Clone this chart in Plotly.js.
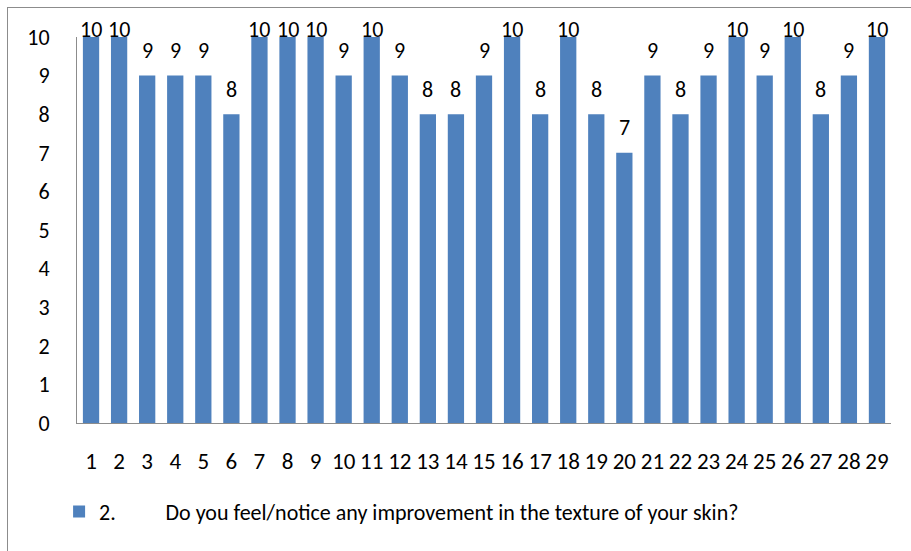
<!DOCTYPE html>
<html>
<head>
<meta charset="utf-8">
<script src="https://cdn.plot.ly/plotly-3.0.1.min.js"></script>
<style>
  html, body { margin: 0; padding: 0; background: #fff; overflow: hidden; }
  #frame { position: absolute; left: 7px; top: 7px; width: 1000px; height: 1000px;
           border-left: 1px solid #8c8c8c; border-top: 1px solid #8c8c8c; }
  #chart { position: absolute; left: 0; top: 0; width: 911px; height: 551px; }
</style>
</head>
<body>
<div id="frame"></div>
<div id="chart"></div>
<script>
const categories = ["1","2","3","4","5","6","7","8","9","10","11","12","13","14","15","16","17","18","19","20","21","22","23","24","25","26","27","28","29"];
const values = [10,10,9,9,9,8,10,10,10,9,10,9,8,8,9,10,8,10,8,7,9,8,9,10,9,10,8,9,10];
const yTicks = [0,1,2,3,4,5,6,7,8,9,10];
const seriesName = "2.\u00A0\u00A0\u00A0\u00A0\u00A0\u00A0\u00A0\u00A0\u00A0\u00A0Do you feel/notice any improvement in the texture of your skin?";

const fontFam = "Carlito, Calibri, Lato, sans-serif";
const yMax = 10;

const trace = {
  type: "bar",
  x: categories,
  y: values,
  name: seriesName,
  marker: { color: "#4F81BD" },
  hoverinfo: "none",
  showlegend: true
};

// Data labels at each bar's value (category index on the category axis);
// labels that would leave the chart area (bars at the axis maximum) are
// pulled down, as the source chart does.
const labels = categories.map((c, i) => ({
  x: i,
  y: values[i],
  xref: "x",
  yref: "y",
  text: String(values[i]),
  showarrow: false,
  yanchor: "middle",
  xanchor: "center",
  yshift: values[i] >= yMax ? 8 : 25,
  font: { family: fontFam, size: 22, color: "#000" }
}));

const layout = {
  width: 911,
  height: 551,
  margin: { l: 77, r: 20, t: 37, b: 128 },
  paper_bgcolor: "rgba(0,0,0,0)",
  plot_bgcolor: "rgba(0,0,0,0)",
  bargap: 0.42,
  font: { family: fontFam, size: 22, color: "#000" },
  annotations: labels,
  xaxis: {
    type: "category",
    tickmode: "array",
    tickvals: categories,
    ticktext: categories,
    showline: true,
    linecolor: "#8c8c8c",
    linewidth: 1,
    showgrid: false,
    zeroline: false,
    ticks: "",
    ticklabelstandoff: 17,
    tickfont: { family: fontFam, size: 23, color: "#000" }
  },
  yaxis: {
    range: [0, yMax],
    tickvals: yTicks,
    ticktext: yTicks.map(String),
    showline: true,
    linecolor: "#8c8c8c",
    linewidth: 1,
    showgrid: false,
    zeroline: false,
    ticks: "",
    ticklabelstandoff: 22,
    tickfont: { family: fontFam, size: 22, color: "#000" }
  },
  legend: {
    orientation: "h",
    x: -0.022,
    xanchor: "left",
    y: -0.23,
    yanchor: "middle",
    font: { family: fontFam, size: 22, color: "#000" },
    bgcolor: "rgba(0,0,0,0)"
  }
};

Plotly.newPlot("chart", [trace], layout, { displayModeBar: false, staticPlot: true });
</script>
</body>
</html>
